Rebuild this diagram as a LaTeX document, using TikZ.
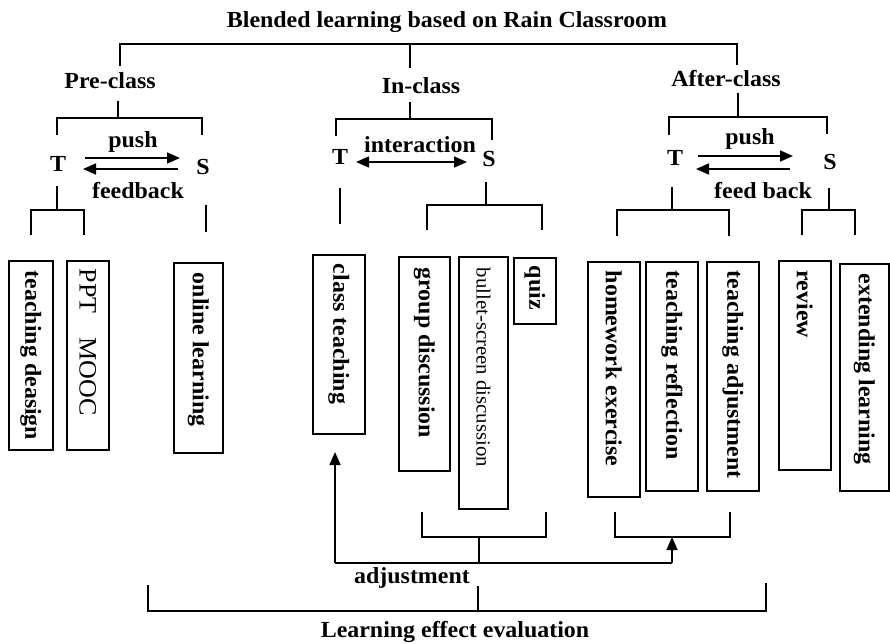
\documentclass[tikz,border=0pt]{standalone}
\usepackage{fontspec}
\setmainfont{Liberation Serif}[FakeStretch=1.04]
\usetikzlibrary{arrows.meta}
\begin{document}
\begin{tikzpicture}[x=1pt,y=-1pt,line width=1.6pt,
  lbl/.style={font=\fontsize{23}{26}\selectfont\bfseries,inner sep=0,anchor=base},
  boxn/.style={draw,line width=1.7pt,inner sep=0,anchor=north west},
  vtext/.style={rotate=-90,anchor=west,inner sep=0,font=\fontsize{23}{26}\selectfont\bfseries},
  vthin/.style={rotate=-90,anchor=west,inner sep=0,font=\fontsize{25}{28}\selectfont},
  tip/.style={-{Triangle[length=13pt,width=11pt]}},
  dtip/.style={{Triangle[length=13pt,width=11pt]}-{Triangle[length=13pt,width=11pt]}}]
\useasboundingbox (0,0) rectangle (890,644);

% titles
\node[lbl] (title) at (447,27.5) {Blended learning based on Rain Classroom};
\node[lbl] (pre) at (110,89) {Pre-class};
\node[lbl] (in) at (421,94) {In-class};
\node[lbl] (after) at (726,87) {After-class};

% T and S
\node[lbl] (preT) at (58,172) {T};
\node[lbl] (preS) at (203,175) {S};
\node[lbl] (inT) at (340,165) {T};
\node[lbl] (inS) at (489,167) {S};
\node[lbl] (afT) at (675,166) {T};
\node[lbl] (afS) at (830,170) {S};

\node[lbl] (prepush) at (133,148) {push};
\node[lbl] (prefb) at (138,199) {feedback};
\node[lbl] (inter) at (420,153) {interaction};
\node[lbl] (afpush) at (750,145) {push};
\node[lbl] (affb) at (763,199) {feed back};

% arrows between T and S
\coordinate (pa1) at (85,158); \coordinate (pa2) at (180,158);
\coordinate (pf1) at (178,169); \coordinate (pf2) at (83,169);
\coordinate (ia1) at (356,162); \coordinate (ia2) at (467,162);
\coordinate (aa1) at (698,156); \coordinate (aa2) at (793,156);
\coordinate (af1) at (790,169); \coordinate (af2) at (696,169);
\draw[tip] (pa1) -- (pa2);
\draw[tip] (pf1) -- (pf2);
\draw[dtip] (ia1) -- (ia2);
\draw[tip] (aa1) -- (aa2);
\draw[tip] (af1) -- (af2);

% top bracket
\draw (120,66) -- (120,44) -- (737,44) -- (737,65);
\draw (410,44) -- (410,68);

% pre-class brackets
\draw (118,101) -- (118,118);
\draw (57,135) -- (57,118) -- (202,118) -- (202,135);
\draw (57,186) -- (57,210);
\draw (31,235) -- (31,210) -- (84,210) -- (84,235);
\draw (206,205) -- (206,232);

% in-class brackets
\draw (410,102) -- (410,119);
\draw (336,136) -- (336,119) -- (492,119) -- (492,140);
\draw (340,188) -- (340,224);
\draw (486,182) -- (486,205);
\draw (427,230) -- (427,205) -- (542,205) -- (542,230);

% after-class brackets
\draw (738,93) -- (738,117);
\draw (669,135) -- (669,117) -- (827,117) -- (827,134);
\draw (672,187) -- (672,210);
\draw (617,236) -- (617,210) -- (729,210) -- (729,236);
\draw (829,188) -- (829,210);
\draw (802,235) -- (802,210) -- (855,210) -- (855,235);

% boxes
\node[boxn,minimum width=44pt,minimum height=189pt] (b1) at (8,260) {};
\node[boxn,minimum width=42pt,minimum height=189pt] (b2) at (66,260) {};
\node[boxn,minimum width=49pt,minimum height=190pt] (b3) at (173,262) {};
\node[boxn,minimum width=52pt,minimum height=179pt] (b4) at (312,254) {};
\node[boxn,minimum width=51pt,minimum height=214pt] (b5) at (398,256) {};
\node[boxn,minimum width=49pt,minimum height=252pt] (b6) at (458,256) {};
\node[boxn,minimum width=42pt,minimum height=66pt] (b7) at (513,257) {};
\node[boxn,minimum width=52pt,minimum height=235pt] (b8) at (587,261) {};
\node[boxn,minimum width=52pt,minimum height=229pt] (b9) at (645,261) {};
\node[boxn,minimum width=52pt,minimum height=229pt] (b10) at (706,261) {};
\node[boxn,minimum width=52pt,minimum height=209pt] (b11) at (778,260) {};
\node[boxn,minimum width=49pt,minimum height=227pt] (b12) at (839,263) {};

\node[vtext] (t1) at ([yshift=-10pt]b1.north) {teaching deasign};
\node[vthin] (t2) at ([yshift=-8pt]b2.north) {PPT\hspace{24pt}MOOC};
\node[vtext] (t3) at ([yshift=-10pt]b3.north) {online learning};
\node[vtext] (t4) at ([yshift=-9pt]b4.north) {class teaching};
\node[vtext] (t5) at ([yshift=-11pt]b5.north) {group discussion};
\node[vthin,font=\fontsize{20}{23}\selectfont] (t6) at ([yshift=-11pt]b6.north) {bullet-screen discussion};
\node[vtext] (t7) at ([yshift=-8pt]b7.north) {quiz};
\node[vtext] (t8) at ([yshift=-9pt]b8.north) {homework exercise};
\node[vtext] (t9) at ([yshift=-9pt]b9.north) {teaching reflection};
\node[vtext] (t10) at ([yshift=-9pt]b10.north) {teaching adjustment};
\node[vtext] (t11) at ([yshift=-10pt]b11.north) {review};
\node[vtext] (t12) at ([yshift=-10pt]b12.north) {extending learning};

% bottom brackets and feedback
\draw (422,512) -- (422,537) -- (546,537) -- (546,512);
\draw (479,537) -- (479,563);
\draw (615,512) -- (615,537) -- (730,537) -- (730,512);
\coordinate (adjL) at (335,563);
\coordinate (adjR) at (672,563);
\coordinate (ctip) at (335,452);
\coordinate (atip) at (672,537);
\draw (adjL) -- (adjR);
\draw[tip] (adjL) -- (ctip);
\draw[tip] (adjR) -- (atip);
\node[lbl] (adj) at (412,583) {adjustment};

\draw (148,585) -- (148,611) -- (766,611) -- (766,583);
\draw (478,586) -- (478,611);
\node[lbl] (eval) at (455,637) {Learning effect evaluation};
\end{tikzpicture}
\end{document}
